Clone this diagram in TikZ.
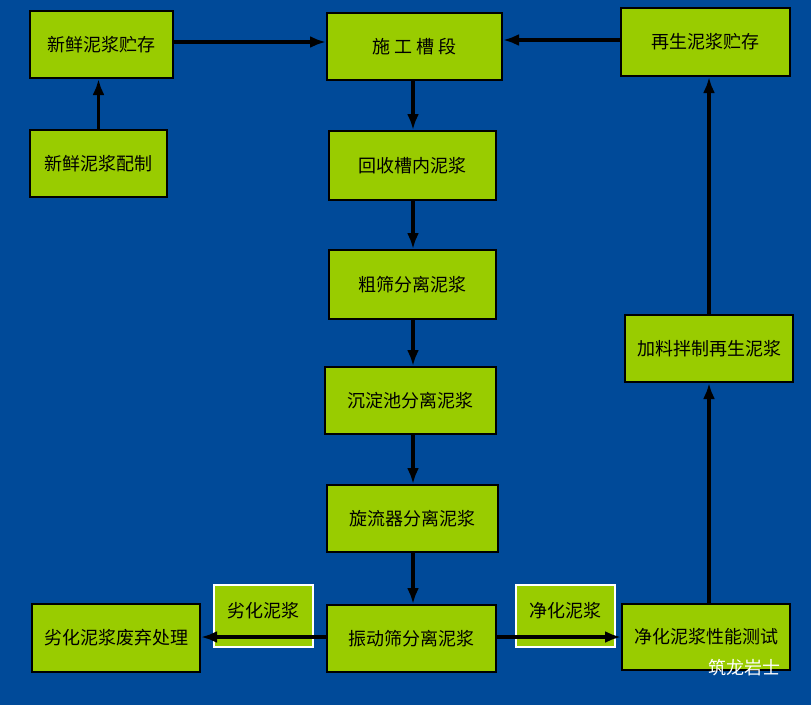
\documentclass[tikz,border=0pt]{standalone}
\usepackage{fontspec}
\setmainfont{Noto Sans CJK SC}
\usetikzlibrary{arrows.meta}
\definecolor{bgblue}{HTML}{004A99}
\definecolor{boxgreen}{HTML}{99CC00}
\tikzset{
  stage/.style = {draw=black, line width=2pt, fill=boxgreen, inner sep=0pt,
    font=\fontsize{18pt}{22pt}\selectfont},
  tag/.style = {draw=white, line width=1.5pt, fill=boxgreen, inner sep=0pt,
    font=\fontsize{18pt}{22pt}\selectfont},
  flow/.style = {line width=3.5pt, -{Latex[length=16pt,width=12pt]}}
}
\begin{document}
\begin{tikzpicture}[x=1pt,y=-1pt]
\fill[bgblue] (0,0) rectangle (811,705);
\useasboundingbox (0,0) rectangle (811,705);

% boxes, placed at pixel centres
\node[stage, minimum width=143pt, minimum height=67pt] (fresh) at (101.5,44.5) {新鲜泥浆贮存};
\node[stage, minimum width=137pt, minimum height=67pt] (mix) at (98.5,163.5) {新鲜泥浆配制};
\node[stage, minimum width=175pt, minimum height=67pt] (trench) at (414.5,46.5) {施\ 工\ 槽\ 段};
\node[stage, minimum width=169pt, minimum height=68pt] (reuse) at (705.5,42) {再生泥浆贮存};
\node[stage, minimum width=167pt, minimum height=69pt] (back) at (412.5,165.5) {回收槽内泥浆};
\node[stage, minimum width=167pt, minimum height=69pt] (coarse) at (412.5,284.5) {粗筛分离泥浆};
\node[stage, minimum width=171pt, minimum height=67pt] (settle) at (410.5,400.5) {沉淀池分离泥浆};
\node[stage, minimum width=171pt, minimum height=67pt] (cyclone) at (412.5,518.5) {旋流器分离泥浆};
\node[stage, minimum width=169pt, minimum height=67pt] (shaker) at (411.5,638.5) {振动筛分离泥浆};
\node[stage, minimum width=168pt, minimum height=68pt] (waste) at (116,638) {劣化泥浆废弃处理};
\node[stage, minimum width=168pt, minimum height=66pt] (test) at (706,637) {净化泥浆性能测试};
\node[stage, minimum width=168pt, minimum height=67pt] (remix) at (709,348.5) {加料拌制再生泥浆};

% tags under the side arrows
\node[tag, minimum width=99pt, minimum height=62pt, text depth=12pt] (bad) at (263.5,616) {劣化泥浆};
\node[tag, minimum width=99pt, minimum height=62pt, text depth=12pt] (good) at (565.5,616) {净化泥浆};

% connectors
\draw[flow] (mix) -- (mix |- fresh.south);
\draw[flow] (fresh.east |- 0,42) -- (trench.west |- 0,42);
\draw[flow] (reuse.west |- 0,40) -- (trench.east |- 0,40);
\draw[flow] (trench.south -| 413,0) -- (back.north -| 413,0);
\draw[flow] (back.south -| 413,0) -- (coarse.north -| 413,0);
\draw[flow] (coarse.south -| 413,0) -- (settle.north -| 413,0);
\draw[flow] (settle.south -| 413,0) -- (cyclone.north -| 413,0);
\draw[flow] (cyclone.south -| 413,0) -- (shaker.north -| 413,0);
\draw[flow] (shaker.west |- 0,637) -- (waste.east |- 0,637);
\draw[flow] (shaker.east |- 0,637) -- (test.west |- 0,637);
\draw[flow] (test.north -| 709,0) -- (remix.south -| 709,0);
\draw[flow] (remix.north -| 709,0) -- (reuse.south -| 709,0);

\node[text=white, font=\fontsize{18pt}{22pt}\selectfont] (mark) at (744,668) {筑龙岩士};
\end{tikzpicture}
\end{document}
